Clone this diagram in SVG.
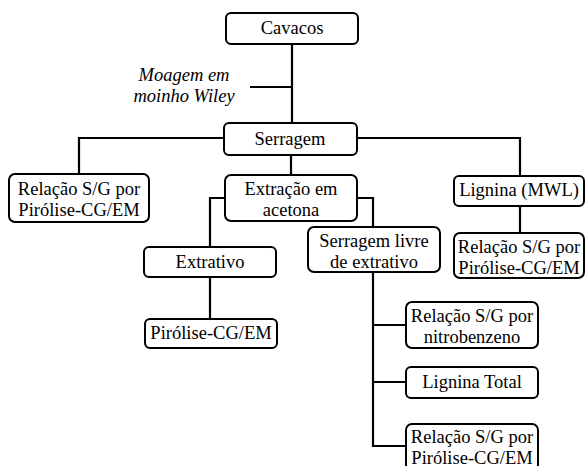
<svg xmlns="http://www.w3.org/2000/svg" width="586" height="466" viewBox="0 0 586 466">
<style>
.box{fill:#fff;stroke:#000;stroke-width:2}
.t{font-family:'Liberation Serif','Times New Roman',Tinos,'DejaVu Serif',serif;font-size:18.5px;text-anchor:middle;fill:#000}
.i{font-style:italic}
.c{fill:none;stroke:#000;stroke-width:2.2}
</style>
<rect width="586" height="466" fill="#fff"/>
<g id="connectors">
<path class="c" d="M292,44 V123"/>
<path class="c" d="M250,87 H292"/>
<path class="c" d="M79,174 V138 H520 V176"/>
<path class="c" d="M291,155 V175"/>
<path class="c" d="M225,198 H210 V247"/>
<path class="c" d="M210,277 V319"/>
<path class="c" d="M357,198 H373 V227"/>
<path class="c" d="M373,272 V446 H406"/>
<path class="c" d="M373,325 H406"/>
<path class="c" d="M373,382 H406"/>
<path class="c" d="M520,206 V233"/>
</g>
<g id="moagem"><text class="t i" x="184" y="81">Moagem em</text><text class="t i" x="184" y="102">moinho Wiley</text></g>
<g id="cavacos"><rect class="box" x="226" y="13" width="132" height="31" rx="5"/><text class="t" x="292" y="34">Cavacos</text></g>
<g id="serragem"><rect class="box" x="224" y="123" width="133" height="32" rx="5"/><text class="t" x="290" y="145">Serragem</text></g>
<g id="relacao1"><rect class="box" x="9" y="174" width="140" height="48" rx="6"/><text class="t" x="79" y="195">Relação S/G por</text><text class="t" x="79" y="216">Pirólise-CG/EM</text></g>
<g id="extracao"><rect class="box" x="225" y="175" width="132" height="46" rx="6"/><text class="t" x="291" y="195">Extração em</text><text class="t" x="291" y="216">acetona</text></g>
<g id="lignina-mwl"><rect class="box" x="454" y="176" width="130" height="30" rx="5"/><text class="t" x="519" y="196">Lignina (MWL)</text></g>
<g id="relacao2"><rect class="box" x="454" y="233" width="130" height="45" rx="6"/><text class="t" x="519" y="253">Relação S/G por</text><text class="t" x="519" y="274">Pirólise-CG/EM</text></g>
<g id="extrativo"><rect class="box" x="144" y="247" width="132" height="30" rx="5"/><text class="t" x="210" y="268">Extrativo</text></g>
<g id="serragem-livre"><rect class="box" x="308" y="227" width="132" height="45" rx="6"/><text class="t" x="374" y="247">Serragem livre</text><text class="t" x="374" y="268">de extrativo</text></g>
<g id="pirolise"><rect class="box" x="145" y="319" width="132" height="29" rx="5"/><text class="t" x="211" y="339">Pirólise-CG/EM</text></g>
<g id="nitro"><rect class="box" x="406" y="302" width="132" height="46" rx="6"/><text class="t" x="472" y="322">Relação S/G por</text><text class="t" x="472" y="343">nitrobenzeno</text></g>
<g id="lignina-total"><rect class="box" x="406" y="367" width="132" height="31" rx="5"/><text class="t" x="472" y="388">Lignina Total</text></g>
<g id="relacao3"><rect class="box" x="406" y="424" width="132" height="48" rx="6"/><text class="t" x="472" y="443">Relação S/G por</text><text class="t" x="472" y="464">Pirólise-CG/EM</text></g>
</svg>
